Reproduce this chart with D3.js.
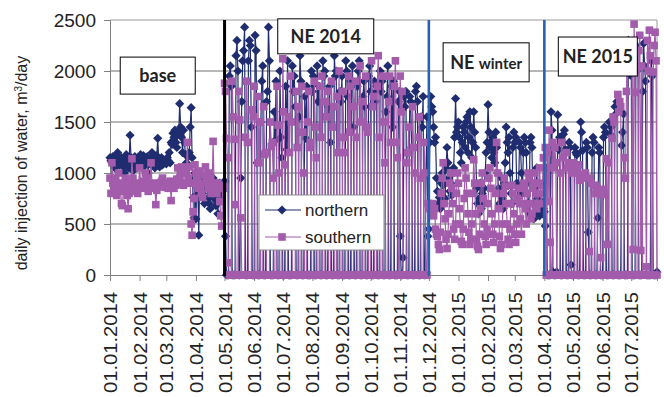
<!DOCTYPE html>
<html>
<head>
<meta charset="utf-8">
<script src="https://cdn.jsdelivr.net/npm/d3@7"></script>
<style>
  body { margin: 0; background: #fff; }
  svg { display: block; }
</style>
</head>
<body>
<svg id="chart" width="664" height="397"></svg>
<script>
// ---- data -------------------------------------------------------------
// Daily injection of water (m3/day), one value per day starting 01.01.2014.
const firstDay = "2014-01-01";
const lastDay = "2015-07-28";
const yTicks = [0, 500, 1000, 1500, 2000, 2500];
const monthTicks = [
  "2014-01-01", "2014-02-01", "2014-03-01", "2014-04-01", "2014-05-01", "2014-06-01",
  "2014-07-01", "2014-08-01", "2014-09-01", "2014-10-01", "2014-11-01", "2014-12-01",
  "2015-01-01", "2015-02-01", "2015-03-01", "2015-04-01", "2015-05-01", "2015-06-01",
  "2015-07-01"
];
const seriesNames = ["northern", "southern"];
const periodNames = ["base", "NE 2014", "NE winter", "NE 2015"];
const periodStarts = ["2014-05-01", "2014-12-01", "2015-04-01"];

// base period: 01.01.2014 - 30.04.2014
const northernBase = [
  1150, 1120, 1100, 1160, 1130, 1050, 1110, 1170, 1200, 1140,
  1080, 1120, 1150, 1100, 1060, 1000, 1120, 1180, 1090, 1050,
  1110, 1370, 1150, 1080, 1020, 1100, 1160, 1120, 1050, 1130,
  1090,
  1140, 1180, 1100, 1050, 1170, 1120, 1080, 1150, 1160, 1000,
  1100, 1090, 1140, 1200, 1130, 1080, 1050, 1110, 1170, 1340,
  1120, 1060, 1100, 1150, 1080, 1130, 1100, 1120,
  1090, 1150, 1120, 1200, 1100, 1300, 1280, 1390, 1350, 1420,
  1300, 1250, 1400, 1380, 1680, 1450, 1350, 1200, 1420, 1300,
  1180, 1100, 1050, 1160, 1200, 1450, 1640, 1150, 760, 560,
  1000,
  550, 900, 850, 390, 1000, 950, 880, 800, 750, 700,
  920, 980, 850, 760, 700, 650, 900, 860, 950, 800,
  740, 680, 720, 600, 850, 900, 880, 780, 820, 910
];
const southernBase = [
  950, 800, 1100, 900, 850, 950, 820, 780, 900, 1000,
  880, 850, 700, 680, 820, 900, 950, 870, 780, 650,
  800, 880, 900, 1140, 950, 820, 870, 900, 850, 800,
  880,
  1050, 900, 870, 850, 920, 880, 1000, 950, 860, 820,
  880, 900, 1100, 870, 850, 880, 900, 690, 830, 860,
  900, 880, 870, 920, 950, 900, 880, 860,
  870, 900, 850, 880, 920, 730, 900, 870, 850, 910,
  880, 940, 1050, 900, 950, 1000, 1060, 900, 880, 1050,
  1020, 1000, 1300, 950, 1060, 900, 500, 390, 620, 750,
  1080,
  1000, 950, 900, 850, 1020, 880, 800, 760, 900, 980,
  1060, 920, 900, 850, 1000, 950, 800, 880, 1310, 900,
  850, 900, 800, 900, 880, 720, 580, 480, 850, 870
];

// NE 2014: 01.05.2014 - 30.11.2014 (groups injected in turn)
const northernNE2014 = [
  920, 380, 0, 0, 0, 1950, 2050, 1850, 0, 0,
  0, 0, 2150, 2300, 2000, 0, 0, 950, 1700, 2100,
  2200, 2430, 0, 0, 0, 2100, 2300, 2250, 1450, 0,
  0, 0, 2350, 2200, 1100, 0, 0, 0, 1500, 1900,
  2050, 0, 0, 0, 1700, 1800, 2430, 2100, 0, 0,
  0, 0, 1600, 1320, 1900, 0, 0, 0, 2000, 1350,
  1150, 0, 0, 0, 1850, 1230, 2100, 0, 0, 0,
  0, 2050, 1800, 1950, 1650, 0, 0, 0, 1550, 2150,
  1900, 0, 0, 0, 1750, 1340, 1850, 0, 0, 0,
  0, 2000, 1800, 1950, 0, 0, 0, 2050, 1700, 1850,
  0, 0, 0, 2100, 1950, 2000, 0, 0, 0, 1650,
  1850, 1300, 0, 0, 0, 2150, 1950, 2000, 0, 0,
  0, 1800, 1700, 1950, 0, 0, 0, 2100, 2000, 1750,
  0, 0, 0, 1900, 2050, 1450, 0, 0, 0, 1850,
  2000, 2100, 0, 0, 0, 1750, 1900, 1650, 0, 0,
  0, 1950, 2050, 1800, 0, 0, 0, 1900, 1700, 1850,
  0, 0, 0, 2000, 1800, 1900, 0, 0, 0, 1600,
  1750, 2050, 0, 0, 0, 1850, 1450, 1900, 0, 0,
  0, 0, 1700, 1800, 380, 0, 0, 170, 1750, 1650,
  1800, 0, 0, 0, 1750, 1700, 1250, 0, 0, 0,
  1800, 1850, 1700, 0, 0, 0, 1550, 1450, 1750, 0,
  0, 1000, 1550, 380
];
const southernNE2014 = [
  1880, 1800, 1340, 1150, 120, 0, 0, 0, 1900, 1550,
  1330, 690, 0, 0, 0, 1800, 1520, 560, 0, 0,
  0, 0, 1350, 1900, 1300, 0, 0, 0, 0, 1620,
  1550, 1850, 0, 0, 0, 1750, 1100, 1500, 0, 0,
  0, 1650, 1180, 1200, 0, 0, 0, 0, 1500, 1260,
  1300, 950, 0, 0, 0, 1850, 1470, 1000, 0, 0,
  0, 2120, 1600, 1080, 0, 0, 0, 1550, 1200, 1950,
  1500, 0, 0, 0, 0, 1800, 1250, 1650, 0, 0,
  0, 1850, 1400, 1000, 0, 0, 0, 1500, 1800, 1250,
  1300, 0, 0, 0, 1900, 1450, 1150, 0, 0, 0,
  1850, 1350, 1950, 0, 0, 0, 1700, 1550, 1800, 0,
  0, 0, 1900, 1450, 1650, 0, 0, 0, 1750, 1200,
  2000, 0, 0, 0, 1800, 1350, 1200, 0, 0, 0,
  1950, 1400, 1850, 0, 0, 0, 1650, 1900, 1350, 0,
  0, 0, 2050, 1500, 1700, 0, 0, 0, 1950, 1450,
  1400, 0, 0, 0, 2100, 1650, 1750, 0, 0, 0,
  1850, 2150, 1350, 0, 0, 0, 1950, 1500, 1100, 0,
  0, 0, 1700, 1950, 1300, 0, 0, 0, 1850, 2100,
  1300, 1150, 0, 0, 1950, 1600, 1800, 0, 0, 0,
  0, 1100, 1200, 1450, 0, 0, 0, 1650, 1250, 1000,
  0, 0, 0, 1350, 1550, 950, 0, 0, 0, 1300,
  1000, 0, 0, 700
];

// NE winter: 01.12.2014 - 31.03.2015
const northernWinter = [
  450, 1300, 1750, 1650, 1600, 1450, 1300, 1350, 950, 820,
  700, 760, 650, 900, 1000, 880, 700, 750, 1050, 1250,
  1100, 950, 820, 900, 780, 1000, 1050, 1350, 1730, 1400,
  1450, 1500, 1350, 1200, 1100, 1300, 1450, 1400, 1250, 1500,
  1550, 1200, 1350, 1600, 1450, 1150, 1300, 1600, 1400, 1250,
  850, 700, 600, 750, 900, 650, 800, 700, 850, 1000,
  1200, 1300, 1670, 1400, 1250, 1300, 1150, 1350, 1200, 1100,
  1400, 1250, 1000, 850, 700, 800, 950, 750, 650, 900,
  1100, 1450, 1300, 1200, 1350, 1000, 800, 700, 1250, 1400,
  1300, 1350, 900, 750, 850, 1300, 1250, 1000, 800, 1200,
  1350, 1300, 1200, 900, 700, 600, 1300, 1350, 1250, 700,
  550, 600, 700, 1050, 750, 650, 580, 700, 720, 600,
  650
];
const southernWinter = [
  700, 650, 600, 620, 700, 580, 650, 450, 400, 380,
  300, 250, 420, 800, 950, 1100, 700, 550, 350, 260,
  400, 600, 900, 1000, 850, 700, 450, 350, 500, 800,
  1000, 900, 650, 500, 330, 300, 450, 750, 1050, 950,
  800, 600, 420, 300, 350, 500, 800, 1130, 900, 600,
  350, 280, 250, 400, 650, 900, 1000, 750, 500, 380,
  300, 450, 700, 950, 1050, 850, 600, 400, 320, 500,
  800, 1300, 1000, 650, 380, 260, 300, 500, 800, 950,
  870, 700, 500, 350, 300, 450, 700, 880, 800, 600,
  400, 320, 500, 750, 850, 700, 550, 400, 700, 900,
  850, 650, 500, 800, 1000, 950, 700, 550, 600, 850,
  900, 1000, 800, 650, 700, 900, 1050, 800, 700, 880,
  1150
];

// NE 2015: 01.04.2015 - 28.07.2015
const northernNE2015 = [
  620, 480, 1050, 0, 0, 0, 0, 1600, 1420, 30,
  0, 0, 0, 30, 1570, 1230, 1350, 0, 0, 0,
  1380, 1420, 1230, 0, 0, 0, 1300, 1250, 100, 0,
  0, 0, 1250, 1200, 1180, 0, 0, 0, 1500, 1400,
  1220, 0, 0, 0, 1300, 1250, 420, 0, 0, 0,
  1200, 1350, 1300, 0, 0, 0, 560, 1250, 1200, 0,
  0, 0, 1350, 1450, 1400, 0, 0, 0, 1500, 1380,
  1450, 0, 0, 0, 1650, 1580, 1700, 0, 0, 0,
  0, 1270, 1400, 1580, 0, 0, 0, 0, 2300, 2150,
  1960, 2100, 0, 0, 0, 0, 2250, 2000, 2200, 0,
  0, 0, 0, 1800, 2270, 2050, 1900, 0, 0, 0,
  0, 0, 2100, 1950, 0, 0, 0, 0, 30
];
const southernNE2015 = [
  1150, 1250, 0, 1200, 720, 1420, 320, 0, 0, 1300,
  1050, 1250, 1100, 0, 0, 0, 0, 1000, 1300, 1150,
  0, 0, 0, 1200, 1050, 1100, 0, 0, 0, 1000,
  1100, 1050, 0, 0, 0, 1000, 1080, 930, 0, 0,
  0, 980, 950, 1000, 0, 0, 0, 230, 950, 900,
  0, 0, 0, 880, 800, 850, 0, 0, 0, 170,
  790, 840, 0, 0, 0, 1140, 300, 1100, 0, 0,
  0, 1340, 1550, 1500, 0, 0, 0, 1770, 1600, 1700,
  1650, 0, 0, 0, 1150, 950, 1800, 2290, 0, 0,
  0, 0, 2100, 250, 2460, 1790, 0, 0, 0, 2200,
  2350, 240, 2050, 0, 0, 0, 0, 80, 2300, 2000,
  2400, 2150, 0, 0, 1990, 2250, 2380, 2100, 0
];

// ---- chart ------------------------------------------------------------
const parseDay = d3.utcParse("%Y-%m-%d");
const DAY = 864e5;
const t0 = parseDay(firstDay);

const northern = [].concat(northernBase, northernNE2014, northernWinter, northernNE2015);
const southern = [].concat(southernBase, southernNE2014, southernWinter, southernNE2015);
const toPoints = arr => arr.map((v, i) => ({ date: new Date(t0.getTime() + i * DAY), v }));

const svg = d3.select("#chart");
const plot = { left: 110, right: 657, top: 20, bottom: 275 };

const x = d3.scaleUtc()
  .domain([t0, parseDay(lastDay)])
  .range([plot.left, plot.right]);
const y = d3.scaleLinear()
  .domain([0, 2500])
  .range([plot.bottom, plot.top]);

const NAVY = "#1f2d70";
const PURPLE = "#a35cab";
const FONT = "'Liberation Sans', Arial, sans-serif";

// gridlines
svg.append("g")
  .selectAll("line")
  .data(yTicks.filter(v => v > 0 && v < 2500))
  .join("line")
  .attr("x1", plot.left).attr("x2", plot.right)
  .attr("y1", d => y(d)).attr("y2", d => y(d))
  .attr("stroke", "#6e6e6e").attr("stroke-width", 1);

// plot area border (top and right)
svg.append("path")
  .attr("d", `M${plot.left},${y(2500)}H${plot.right}V${plot.bottom}`)
  .attr("fill", "none").attr("stroke", "#9a9a9a").attr("stroke-width", 1);

// axes
const yAxis = svg.append("g")
  .attr("transform", `translate(${plot.left},0)`)
  .call(d3.axisLeft(y).tickValues(yTicks).tickSize(6).tickPadding(8).tickFormat(d3.format("d")));
yAxis.selectAll("path, line").attr("stroke", "#808080");
yAxis.selectAll("text")
  .attr("font-family", FONT)
  .attr("font-size", 19).attr("fill", "#222");

const fmt = d3.utcFormat("%d.%m.%Y");
const xAxis = svg.append("g")
  .attr("transform", `translate(0,${plot.bottom})`)
  .call(d3.axisBottom(x).tickValues(monthTicks.map(parseDay)).tickSize(6).tickFormat(fmt));
xAxis.selectAll("path, line").attr("stroke", "#808080");
xAxis.selectAll("text")
  .attr("font-family", FONT)
  .attr("font-size", 18).attr("fill", "#222")
  .attr("transform", "rotate(-90)")
  .attr("x", -17).attr("y", 0).attr("dy", "0.36em")
  .attr("text-anchor", "end")
  .attr("textLength", 101).attr("lengthAdjust", "spacingAndGlyphs");

// y-axis title
const yTitle = svg.append("text")
  .attr("transform", `translate(27,163) rotate(-90)`)
  .attr("text-anchor", "middle")
  .attr("font-family", FONT)
  .attr("font-size", 16).attr("fill", "#222");
yTitle.append("tspan").text("daily injection of water, m");
yTitle.append("tspan").attr("baseline-shift", "super").attr("font-size", 10).text("3");
yTitle.append("tspan").text("/day");

// series
const diamond = "M0,-4.6L4.6,0L0,4.6L-4.6,0Z";
const line = d3.line().x(d => x(d.date)).y(d => y(d.v));

function drawSeries(values, color, marker) {
  const pts = toPoints(values);
  const g = svg.append("g");
  g.append("path").datum(pts)
    .attr("d", line).attr("fill", "none")
    .attr("stroke", color).attr("stroke-width", 1.2);
  if (marker === "diamond") {
    g.selectAll("path.m").data(pts).join("path")
      .attr("class", "m").attr("d", diamond)
      .attr("transform", d => `translate(${x(d.date)},${y(d.v)})`)
      .attr("fill", color);
  } else {
    g.selectAll("rect.m").data(pts).join("rect")
      .attr("class", "m")
      .attr("x", d => x(d.date) - 3.8).attr("y", d => y(d.v) - 3.8)
      .attr("width", 7.6).attr("height", 7.6)
      .attr("fill", color);
  }
}
drawSeries(northern, NAVY, "diamond");
drawSeries(southern, PURPLE, "square");

// period boundaries
const boundaryStyle = [
  { color: "#000000", width: 3 },
  { color: "#2761b3", width: 2.6 },
  { color: "#2761b3", width: 2.6 }
];
periodStarts.forEach((d, i) => {
  svg.append("line")
    .attr("x1", x(parseDay(d))).attr("x2", x(parseDay(d)))
    .attr("y1", y(2500)).attr("y2", y(0) + 1)
    .attr("stroke", boundaryStyle[i].color)
    .attr("stroke-width", boundaryStyle[i].width);
});

// period labels in boxes
const labelBoxes = [
  { name: periodNames[0], at: "2014-02-20", v: 1955, w: 75, h: 37 },
  { name: periodNames[1], at: "2014-08-15", v: 2340, w: 96, h: 35 },
  { name: periodNames[2], at: "2015-01-30", v: 2085, w: 86, h: 39 },
  { name: periodNames[3], at: "2015-05-27", v: 2142, w: 79, h: 39 }
];
labelBoxes.forEach(b => {
  const cx = x(parseDay(b.at)), cy = y(b.v);
  const g = svg.append("g");
  g.append("rect")
    .attr("x", cx - b.w / 2).attr("y", cy - b.h / 2)
    .attr("width", b.w).attr("height", b.h)
    .attr("fill", "#fff").attr("stroke", "#000").attr("stroke-width", 1);
  const t = g.append("text")
    .attr("x", cx).attr("y", cy).attr("dy", "0.36em")
    .attr("text-anchor", "middle")
    .attr("font-family", "Lato, 'Open Sans', sans-serif")
    .attr("font-weight", "bold").attr("font-size", 18).attr("fill", "#222");
  const parts = b.name.split(" ");
  if (parts[1] === "winter") {
    t.append("tspan").text("NE ");
    t.append("tspan").attr("font-size", 15).text("winter");
  } else {
    t.text(b.name);
  }
});

// legend
const legend = svg.append("g").attr("transform", "translate(259,195)");
legend.append("rect")
  .attr("width", 125).attr("height", 55)
  .attr("fill", "#fff").attr("stroke", "#8c8c8c").attr("stroke-width", 1);
seriesNames.forEach((name, i) => {
  const ly = 15 + i * 27;
  const color = i === 0 ? NAVY : PURPLE;
  const row = legend.append("g").attr("transform", `translate(0,${ly})`);
  row.append("line").attr("x1", 6).attr("x2", 42).attr("y1", 0).attr("y2", 0)
    .attr("stroke", color).attr("stroke-width", 1.2);
  if (i === 0) {
    row.append("path").attr("d", diamond).attr("transform", "translate(23,0)").attr("fill", color);
  } else {
    row.append("rect").attr("x", 19.2).attr("y", -3.8).attr("width", 7.6).attr("height", 7.6).attr("fill", color);
  }
  row.append("text").attr("x", 46).attr("y", 0).attr("dy", "0.36em")
    .attr("font-family", FONT)
    .attr("font-size", 17).attr("fill", "#222").text(name);
});
</script>
</body>
</html>
